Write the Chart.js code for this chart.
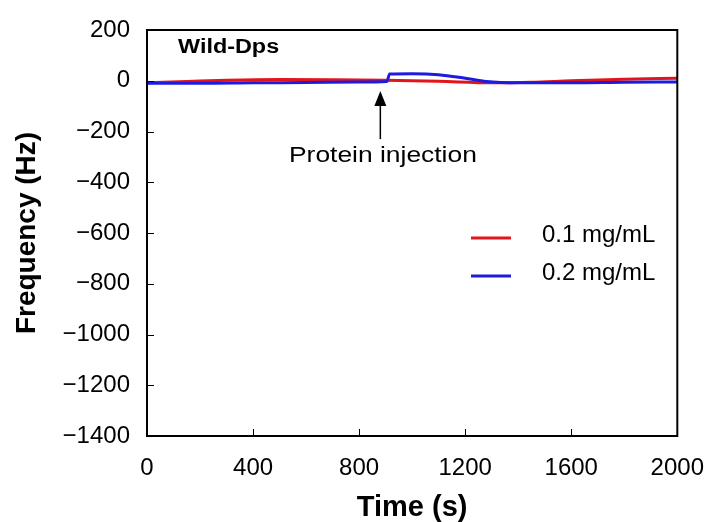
<!DOCTYPE html>
<html>
<head>
<meta charset="utf-8">
<script src="https://cdn.jsdelivr.net/npm/chart.js@4"></script>
<style>
  html, body { margin: 0; padding: 0; background: #fff; }
  #wrap { width: 714px; height: 522px; }
</style>
</head>
<body>
<div id="wrap"><canvas id="qcm"></canvas></div>
<script>
// dados
const redTime = [0, 150, 300, 500, 700, 900, 1100, 1300, 1450, 1600, 1800, 2000];
const redFreq = [-8, -3, 2, 5, 4, 2, -2, -8, -6, 0, 6, 10];
const blueTime = [0, 200, 400, 600, 800, 905, 915, 1000, 1100, 1200, 1280, 1400, 1600, 1800, 2000];
const blueFreq = [-10, -10, -8, -7, -5, -3, 27, 28, 24, 10, -3, -8, -8, -6, -5];
const xTicks = [0, 400, 800, 1200, 1600, 2000];
const yTicks = [200, 0, -200, -400, -600, -800, -1000, -1200, -1400];
const seriesLabels = ["0.1 mg/mL", "0.2 mg/mL"];
const seriesColors = ["#e3151c", "#1c1ce0"];

const font = "'Liberation Sans', Arial, sans-serif";
const pts = (xs, ys) => xs.map((x, i) => ({ x, y: ys[i] }));

// texto esticado na horizontal como no original
function wideText(ctx, txt, x, y, sx) {
  ctx.save();
  ctx.translate(x, y);
  ctx.scale(sx, 1);
  ctx.fillText(txt, 0, 0);
  ctx.restore();
}

// ================= moldura, ticks internos, legenda, seta =================
const decor = {
  id: "decor",
  afterDraw(chart) {
    const { ctx, chartArea: a, scales } = chart;
    ctx.save();
    ctx.strokeStyle = "#000";
    ctx.lineWidth = 1;
    xTicks.forEach(v => {
      if (v === 0 || v === 2000) return;
      const px = Math.round(scales.x.getPixelForValue(v)) + 0.5;
      ctx.beginPath(); ctx.moveTo(px, a.bottom); ctx.lineTo(px, a.bottom - 7); ctx.stroke();
    });
    yTicks.forEach(v => {
      if (v === 200 || v === -1400) return;
      const py = Math.round(scales.y.getPixelForValue(v)) + 0.5;
      ctx.beginPath(); ctx.moveTo(a.left, py); ctx.lineTo(a.left + 7, py); ctx.stroke();
    });
    ctx.lineWidth = 2;
    ctx.strokeRect(a.left, a.top, a.right - a.left, a.bottom - a.top);

    // titulo interno
    ctx.fillStyle = "#000";
    ctx.font = "bold 20px " + font;
    ctx.textBaseline = "middle";
    ctx.textAlign = "left";
    wideText(ctx, "Wild-Dps", a.left + 31, 47, 1.17);

    // legenda
    ctx.font = "24px " + font;
    seriesLabels.forEach((lab, i) => {
      const y = 238 + i * 38;
      ctx.strokeStyle = seriesColors[i];
      ctx.lineWidth = 3;
      ctx.beginPath(); ctx.moveTo(471, y); ctx.lineTo(511, y); ctx.stroke();
      ctx.fillStyle = "#000";
      ctx.fillText(lab, 542, y - 3);
    });

    // seta "Protein injection"
    const ax = scales.x.getPixelForValue(880);
    const yTip = scales.y.getPixelForValue(-40);
    const yEnd = scales.y.getPixelForValue(-230);
    ctx.strokeStyle = "#000";
    ctx.lineWidth = 1.5;
    ctx.beginPath(); ctx.moveTo(ax, yTip + 8); ctx.lineTo(ax, yEnd); ctx.stroke();
    ctx.beginPath();
    ctx.moveTo(ax, yTip); ctx.lineTo(ax - 6, yTip + 15); ctx.lineTo(ax + 6, yTip + 15);
    ctx.closePath(); ctx.fillStyle = "#000"; ctx.fill();
    ctx.font = "22px " + font;
    ctx.textAlign = "left";
    wideText(ctx, "Protein injection", 289, 156, 1.2);
    ctx.restore();
  }
};

new Chart(document.getElementById("qcm"), {
  type: "line",
  data: {
    datasets: [
      {
        label: seriesLabels[1],
        data: pts(blueTime, blueFreq),
        borderColor: seriesColors[1],
        borderWidth: 3,
        pointRadius: 0,
        cubicInterpolationMode: "monotone"
      },
      {
        label: seriesLabels[0],
        data: pts(redTime, redFreq),
        borderColor: seriesColors[0],
        borderWidth: 3,
        pointRadius: 0,
        cubicInterpolationMode: "monotone"
      }
    ]
  },
  options: {
    responsive: true,
    maintainAspectRatio: false,
    animation: false,
    layout: { padding: { top: 30, right: 36, left: 6, bottom: 0 } },
    plugins: { legend: { display: false }, tooltip: { enabled: false } },
    scales: {
      x: {
        type: "linear",
        min: 0, max: 2000,
        afterBuildTicks: s => { s.ticks = xTicks.map(v => ({ value: v })); },
        afterFit: s => { s.height = 86; },
        grid: { display: false },
        border: { display: false },
        ticks: {
          color: "#000", font: { family: font, size: 24 }, padding: 10, maxRotation: 0,
          callback: v => String(v)
        },
        title: { display: true, text: "Time (s)", color: "#000", font: { family: font, size: 29, weight: "bold", lineHeight: 1 }, padding: { top: 10, bottom: 0 } }
      },
      y: {
        min: -1400, max: 200,
        afterBuildTicks: s => { s.ticks = yTicks.map(v => ({ value: v })); },
        afterFit: s => { s.width = 141; },
        grid: { display: false },
        border: { display: false },
        ticks: {
          color: "#000", font: { family: font, size: 24 }, padding: 9,
          callback: v => (v < 0 ? "\u2212" + Math.abs(v) : String(v))
        },
        title: { display: true, text: "Frequency (Hz)", color: "#000", font: { family: font, size: 28, weight: "bold" }, padding: { bottom: 0 } }
      }
    }
  },
  plugins: [decor]
});
</script>
</body>
</html>
